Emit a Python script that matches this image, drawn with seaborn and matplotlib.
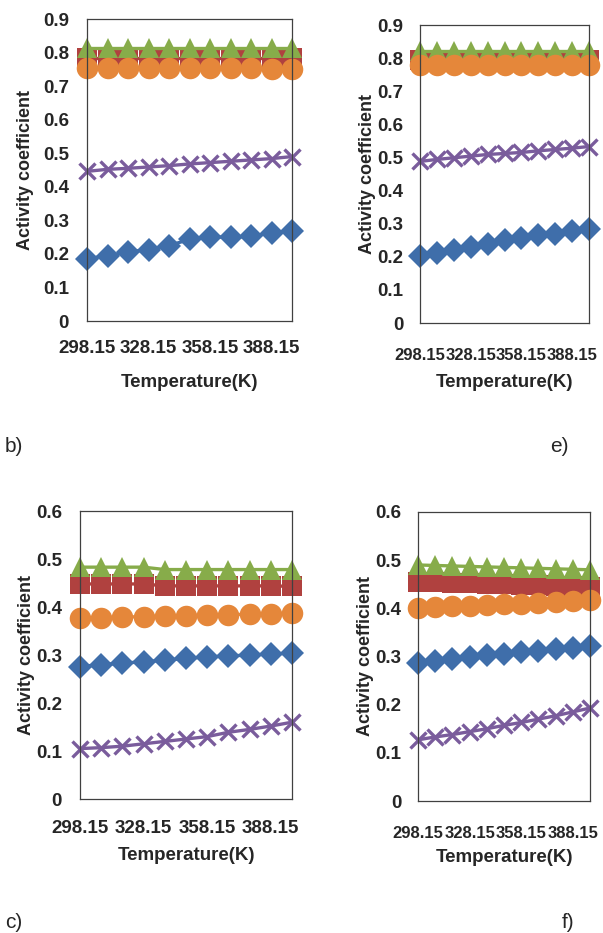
import matplotlib
matplotlib.use("Agg")
import matplotlib.pyplot as plt
import seaborn as sns
import pandas as pd

sns.set_style("white")
plt.rcParams['font.family'] = ['Liberation Sans', 'DejaVu Sans']

# temperatures (K), category axis like the Excel original
temperaturas = [298.15, 308.15, 318.15, 328.15, 338.15, 348.15, 358.15, 368.15, 378.15, 388.15, 398.15]

# panel b)
b_azul = [0.186, 0.194, 0.206, 0.213, 0.225, 0.243, 0.251, 0.249, 0.253, 0.262, 0.268]
b_vermelho = [0.785, 0.785, 0.785, 0.785, 0.785, 0.785, 0.785, 0.785, 0.785, 0.785, 0.785]
b_verde = [0.815, 0.815, 0.815, 0.815, 0.815, 0.815, 0.815, 0.815, 0.815, 0.815, 0.815]
b_roxo = [0.446, 0.452, 0.455, 0.459, 0.463, 0.468, 0.472, 0.476, 0.480, 0.484, 0.490]
b_laranja = [0.754, 0.754, 0.754, 0.754, 0.754, 0.754, 0.753, 0.753, 0.753, 0.752, 0.752]

# panel e)
e_azul = [0.201, 0.210, 0.220, 0.230, 0.240, 0.250, 0.256, 0.265, 0.270, 0.278, 0.283]
e_vermelho = [0.795, 0.795, 0.795, 0.795, 0.795, 0.795, 0.795, 0.795, 0.795, 0.795, 0.795]
e_verde = [0.822, 0.822, 0.822, 0.822, 0.822, 0.822, 0.822, 0.822, 0.822, 0.822, 0.822]
e_roxo = [0.488, 0.494, 0.499, 0.504, 0.509, 0.512, 0.515, 0.520, 0.524, 0.528, 0.533]
e_laranja = [0.780, 0.780, 0.780, 0.780, 0.779, 0.779, 0.779, 0.779, 0.778, 0.778, 0.778]

# panel c)
c_azul = [0.276, 0.280, 0.283, 0.286, 0.289, 0.293, 0.296, 0.298, 0.300, 0.302, 0.304]
c_vermelho = [0.448, 0.448, 0.448, 0.448, 0.444, 0.444, 0.444, 0.444, 0.444, 0.444, 0.443]
c_verde = [0.483, 0.483, 0.483, 0.483, 0.478, 0.478, 0.478, 0.478, 0.478, 0.478, 0.478]
c_roxo = [0.105, 0.107, 0.110, 0.115, 0.120, 0.125, 0.130, 0.139, 0.145, 0.152, 0.160]
c_laranja = [0.377, 0.378, 0.379, 0.380, 0.381, 0.382, 0.383, 0.384, 0.385, 0.386, 0.387]

# panel f)
f_azul = [0.287, 0.290, 0.295, 0.300, 0.303, 0.306, 0.309, 0.312, 0.315, 0.318, 0.321]
f_vermelho = [0.455, 0.454, 0.453, 0.452, 0.451, 0.450, 0.449, 0.448, 0.447, 0.446, 0.445]
f_verde = [0.490, 0.489, 0.488, 0.487, 0.486, 0.485, 0.484, 0.483, 0.482, 0.481, 0.480]
f_roxo = [0.127, 0.133, 0.138, 0.144, 0.150, 0.157, 0.163, 0.170, 0.177, 0.185, 0.193]
f_laranja = [0.400, 0.402, 0.404, 0.405, 0.407, 0.408, 0.410, 0.412, 0.413, 0.415, 0.417]

ticks_b = [0, 0.1, 0.2, 0.3, 0.4, 0.5, 0.6, 0.7, 0.8, 0.9]
ticks_c = [0, 0.1, 0.2, 0.3, 0.4, 0.5, 0.6]

estilos = [
    ("azul", "#3F6EAA", "D", 12.5),
    ("vermelho", "#B0413F", "s", 15),
    ("verde", "#87AC4A", "^", 14.5),
    ("roxo", "#7A5C9C", "x", 12),
    ("laranja", "#E5873A", "o", 15.5),
]

W, H = 603, 933
fig = plt.figure(figsize=(W / 100, H / 100), dpi=100)


def painel(caixa, series, yticks, fx, pad_x, pad_lx, pad_y, pad_ly):
    l, t, r, b = caixa
    ax = fig.add_axes([l / W, 1 - b / H, (r - l) / W, (b - t) / H])
    x = list(range(len(temperaturas)))
    for (nome, cor, marca, tam), valores in zip(estilos, series):
        df = pd.DataFrame({"x": x, "y": valores})
        kw = dict(marker=marca, markersize=tam, color=cor, markeredgecolor=cor,
                  linewidth=2.4, clip_on=False)
        if marca == "x":
            kw.update(markeredgewidth=2.4)
        else:
            kw.update(markeredgewidth=0)
        sns.lineplot(data=df, x="x", y="y", ax=ax, **kw)
    ax.set_xlim(0, len(temperaturas) - 1)
    ax.set_ylim(yticks[0], yticks[-1])
    ax.set_yticks(yticks)
    ax.set_yticklabels([f"{v:g}" for v in yticks], fontsize=13.5, fontweight="bold")
    ax.set_xticks(x[::3])
    ax.set_xticklabels([f"{temperaturas[i]:.2f}" for i in x[::3]], fontsize=fx, fontweight="bold")
    ax.tick_params(length=0)
    ax.tick_params(axis="y", pad=pad_y)
    ax.tick_params(axis="x", pad=pad_x)
    ax.set_xlabel("Temperature(K)", fontsize=13.5, fontweight="bold", labelpad=pad_lx)
    ax.set_ylabel("Activity coefficient", fontsize=13, fontweight="bold", labelpad=pad_ly)
    for s in ax.spines.values():
        s.set_color("#404040")
        s.set_linewidth(0.9)
        s.set_visible(True)
    return ax


painel((87, 19, 292, 321), [b_azul, b_vermelho, b_verde, b_roxo, b_laranja], ticks_b, 13.5, 14, 12, 13, 6)
painel((420, 25, 589, 323), [e_azul, e_vermelho, e_verde, e_roxo, e_laranja], ticks_b, 12, 18, 8, 12, 1)
painel((80, 511, 292, 799), [c_azul, c_vermelho, c_verde, c_roxo, c_laranja], ticks_c, 13.5, 15, 7, 13, 1)
painel((418, 512, 590, 801), [f_azul, f_vermelho, f_verde, f_roxo, f_laranja], ticks_c, 12, 18, 6, 12, 1)

fig.text(5 / W, 1 - 447 / H, "b)", fontsize=15, va="center", ha="left")
fig.text(550 / W, 1 - 447 / H, "e)", fontsize=15, va="center", ha="left")
fig.text(5 / W, 1 - 922 / H, "c)", fontsize=15, va="center", ha="left")
fig.text(562 / W, 1 - 922 / H, "f)", fontsize=15, va="center", ha="left")

plt.savefig("out.png", dpi=100)
plt.close()
